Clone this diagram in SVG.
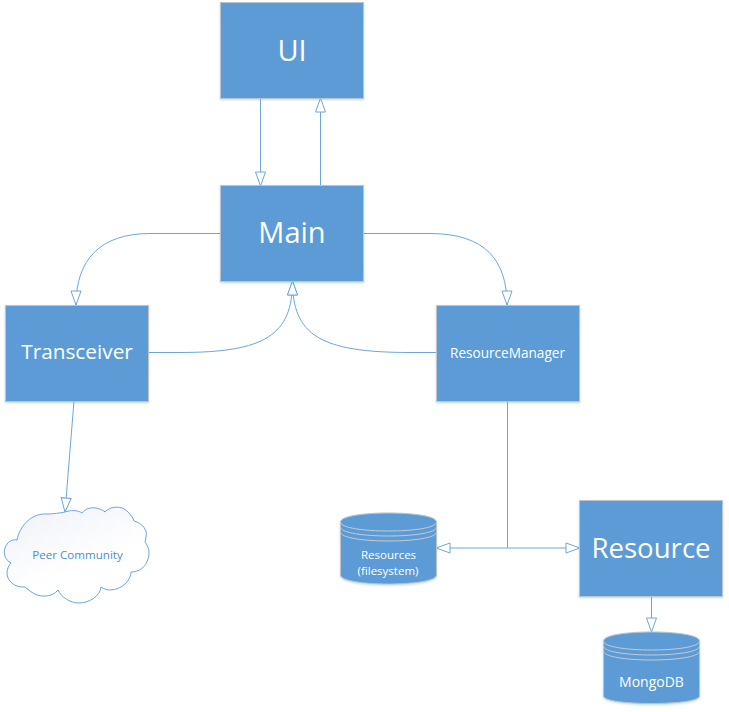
<svg xmlns="http://www.w3.org/2000/svg" width="729" height="712" viewBox="0 0 729 712">
<style>
text{font-family:"Open Sans","Noto Sans","Liberation Sans",sans-serif;fill:#fff;text-anchor:middle}
.box{fill:#5b9bd5;stroke:#bcc4cc;stroke-width:1;filter:url(#sh)}
.con{fill:none;stroke:#6ea6dc;stroke-width:1}
.ring{fill:none;stroke:#c6ccd2;stroke-width:1}
</style>
<defs>
<filter id="sh" x="-5%" y="-5%" width="110%" height="110%"><feDropShadow dx="0" dy="1" stdDeviation="1.2" flood-color="#5b9bd5" flood-opacity=".4"/></filter>
<linearGradient id="cl" x1="0" y1="0" x2=".6" y2="1"><stop offset="0" stop-color="#eef1f8"/><stop offset=".7" stop-color="#fff"/></linearGradient>
<marker id="arr" markerUnits="userSpaceOnUse" markerWidth="15" markerHeight="10" refX="14" refY="5" viewBox="0 0 15 10" orient="auto" overflow="visible"><path d="M14,5 L0,0 L0,10 Z" fill="#fff" stroke="#6ea6dc" stroke-width="1"/></marker>
</defs>
<g id="connectors">
<path class="con" marker-end="url(#arr)" d="M260.500,98 V186"/>
<path class="con" marker-end="url(#arr)" d="M320.500,186 V98"/>
<path class="con" marker-end="url(#arr)" d="M221,233.500 H150 C100,233.500 76,260 76,305"/>
<path class="con" marker-end="url(#arr)" d="M364,233.500 H430 C485,233.500 507,260 507,305"/>
<path class="con" marker-end="url(#arr)" d="M148,352.500 H180 C265,352.500 292.500,335 292.500,281"/>
<path class="con" marker-end="url(#arr)" d="M436,352.500 H410 C320,352.500 292.500,335 292.500,281"/>
<path class="con" marker-end="url(#arr)" d="M74,401 L65,512"/>
<path class="con" d="M507.500,401 V548"/>
<path class="con" marker-end="url(#arr)" d="M507.500,548 H436"/>
<path class="con" marker-end="url(#arr)" d="M507.500,548 H580"/>
<path class="con" marker-end="url(#arr)" d="M651.500,596 V632"/>
</g>
<g id="ui"><rect class="box" x="220.500" y="2.500" width="143" height="96"/><text x="292" y="61" font-size="29">UI</text></g>
<g id="main"><rect class="box" x="220.500" y="185.500" width="143" height="96"/><text x="292" y="243" font-size="29">Main</text></g>
<g id="transceiver"><rect class="box" x="5.500" y="305.500" width="143" height="96"/><text x="77" y="359" font-size="20.800">Transceiver</text></g>
<g id="resource-manager"><rect class="box" x="436.500" y="305.500" width="143" height="96"/><text x="507.500" y="358" font-size="13.600">ResourceManager</text></g>
<g id="resource"><rect class="box" x="579.500" y="500.500" width="143" height="96"/><text x="651" y="558" font-size="27.600">Resource</text></g>
<g id="peer-community">
<path d="M17,540 C20,525 32,513 47,514 C53,514 60,513 65,512 C70,510 78,510 82,513 C85,509 90,507 96,508 C100,509 103,510 105,512 C110,506 122,505 128,512 C131,515 133,518 134,521 C142,523 148,530 146,537 L145,542 C149,547 150,553 148,559 C146,567 139,572 131,572 C131,580 122,590 110,590 C107,590 104,589 101,587 C100,597 88,603 79,603 C70,603 61,597 58,590 C52,598 38,598 30,591 L25,587 C15,588 7,581 7,573 C7,569 9,565 11,563 C5,560 3,553 5,548 C7,542 12,539 17,540 Z" fill="url(#cl)" stroke="#6ea6dc"/>
<text x="77.500" y="559" font-size="11.600" style="fill:#4a8fd0">Peer Community</text>
</g>
<g id="resources-db">
<path class="box" d="M340.500,522 C340.500,510 436.500,510 436.500,522 V575 C436.500,587 340.500,587 340.500,575 Z"/>
<path class="ring" d="M340.500,522 C340.500,534 436.500,534 436.500,522 M340.500,527 C340.500,539 436.500,539 436.500,527 M340.500,532 C340.500,544 436.500,544 436.500,532"/>
<text x="388.500" y="559" font-size="11.500">Resources</text><text x="388" y="575" font-size="11.500">(filesystem)</text>
</g>
<g id="mongodb">
<path class="box" d="M603.500,641 C603.500,629 699.500,629 699.500,641 V696 C699.500,706 603.500,706 603.500,696 Z"/>
<path class="ring" d="M603.500,641 C603.500,653 699.500,653 699.500,641 M603.500,646 C603.500,658 699.500,658 699.500,646 M603.500,651 C603.500,663 699.500,663 699.500,651"/>
<text x="651.500" y="687" font-size="14">MongoDB</text>
</g>
</svg>
